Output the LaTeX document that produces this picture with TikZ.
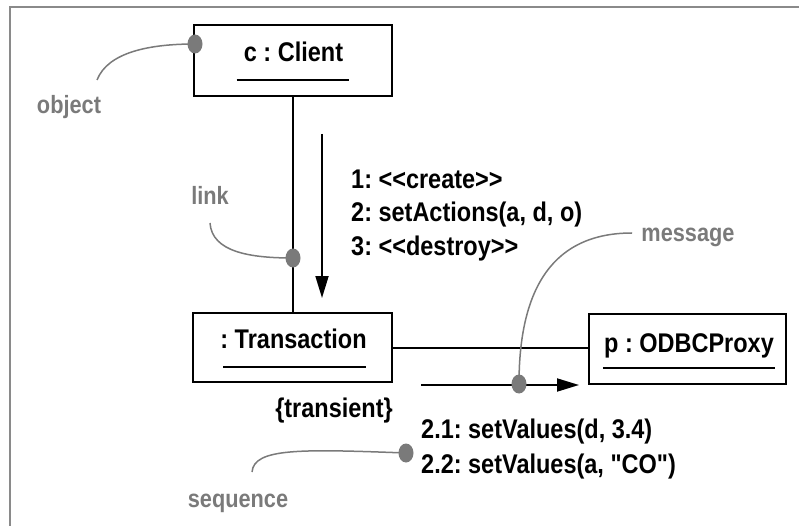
\documentclass[tikz,border=0pt]{standalone}
\usepackage{fontspec}
\setmainfont{Liberation Sans}[Ligatures=TeXOff, FakeStretch=0.87]
\usetikzlibrary{arrows.meta,calc,shapes.geometric}
\definecolor{notegray}{HTML}{7A7A7A}
\definecolor{framegray}{HTML}{8A8A8A}
\newcommand{\lt}{<\kern0pt<}
\newcommand{\gt}{>\kern0pt>}
\tikzset{
  objbox/.style={draw, line width=2pt, inner sep=0pt},
  objtext/.style={font=\fontsize{27}{32}\selectfont\bfseries\frenchspacing, inner sep=0pt, anchor=base},
  msgtext/.style={font=\fontsize{27}{32}\selectfont\bfseries\frenchspacing, inner sep=0pt, anchor=base west},
  notetext/.style={font=\fontsize{25}{30}\selectfont\bfseries, text=notegray, inner sep=0pt, anchor=base},
  notecurve/.style={draw=notegray, line width=1.5pt},
  notedot/.style={ellipse, fill=notegray, minimum width=15pt, minimum height=19pt, inner sep=0pt},
  uline/.style={line width=2pt},
  linkline/.style={line width=2pt},
  msgarrow/.style={line width=1.8pt, -{Triangle[length=22pt,width=13pt]}},
}
\begin{document}
\begin{tikzpicture}[x=1pt,y=-1pt]
\useasboundingbox (0,0) rectangle (799,526);
% frame
\draw[framegray, line width=1.6pt] (10,526) -- (10,7) -- (799,7);

% objects
\node[objbox, minimum width=198pt, minimum height=71pt] (client) at (293,60.5) {};
\node[objtext] (ct) at (293.5,62) {c : Client};
\draw[uline] ($(ct.base west)+(-7,18)$) -- ($(ct.base east)+(6,18)$);

\node[objbox, minimum width=199pt, minimum height=69pt] (trans) at (292.5,347.5) {};
\node[objtext] (tt) at (293.5,348) {: Transaction};
\draw[uline] ($(tt.base west)+(3,19)$) -- ($(tt.base east)+(-1,19)$);

\node[objbox, minimum width=197pt, minimum height=70pt] (odbc) at (687.5,349) {};
\node[objtext] (ot) at (689,352) {p : ODBCProxy};
\draw[uline] ($(ot.base west)+(-1,16)$) -- ($(ot.base east)+(1,16)$);

% links
\draw[linkline] (client.south -| 293,0) -- (trans.north -| 293,0);
\draw[linkline] (trans.east) -- (trans.east -| odbc.west);

% message arrows
\coordinate (m1s) at (322,134);
\coordinate (m1e) at (322,298);
\draw[msgarrow] (m1s) -- (m1e);
\coordinate (m2s) at (421,385);
\coordinate (m2e) at (579,385);
\draw[msgarrow] (m2s) -- (m2e);

% message labels
\node[msgtext] (l1) at (351,189) {1: \lt create\gt};
\node[msgtext] (l2) at (351,222) {2: setActions(a, d, o)};
\node[msgtext] (l3) at (351,256) {3: \lt destroy\gt};
\node[objtext] (trn) at (334,417) {\{transient\}};
\node[msgtext] (l21) at (421,438) {2.1: setValues(d, 3.4)};
\node[msgtext] (l22) at (421,473) {2.2: setValues(a, "CO")};

% notes
\node[notetext] (nobj) at (69,114) {object};
\node[notetext] (nlink) at (210,205) {link};
\node[notetext] (nmsg) at (688,242) {message};
\node[notetext] (nseq) at (238,507) {sequence};

\node[notedot] (dobj) at (195,44) {};
\node[notedot] (dlink) at (293,258) {};
\node[notedot] (dmsg) at (519,384) {};
\node[notedot] (dseq) at (406,453) {};

\coordinate (cobj) at (97,80);
\coordinate (clink) at (210,223);
\coordinate (cmsg) at (632,233);
\coordinate (cseq) at (252,472);
\draw[notecurve] (cobj) .. controls (108,52) and (150,44) .. (dobj.center);
\draw[notecurve] (clink) .. controls (212,252) and (250,258) .. (dlink.center);
\draw[notecurve] (cmsg) .. controls (545,233) and (519,300) .. (dmsg.center);
\draw[notecurve] (cseq) .. controls (254,448) and (300,449) .. (dseq.center);
\end{tikzpicture}
\end{document}
